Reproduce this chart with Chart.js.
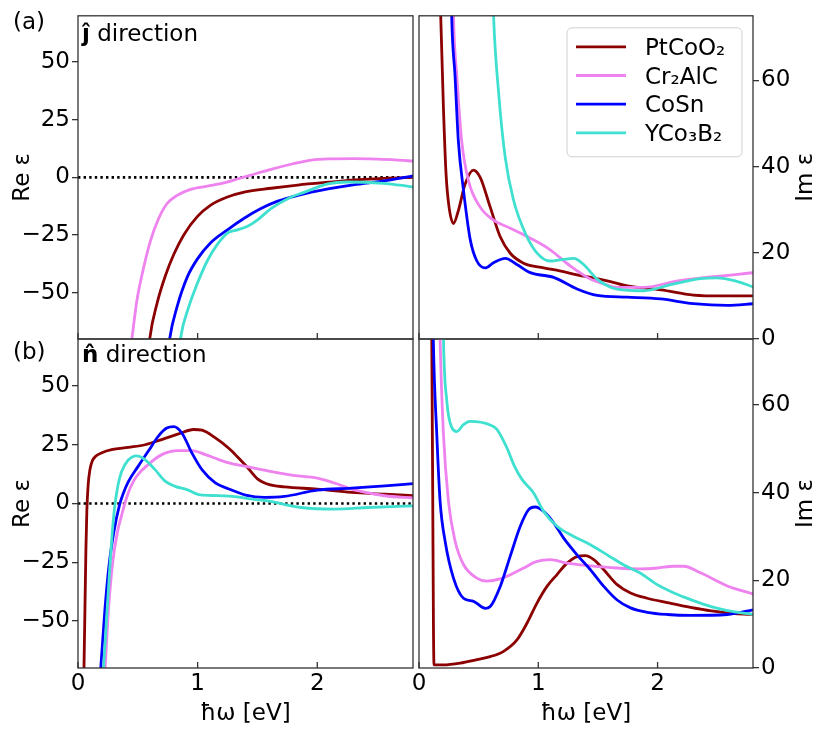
<!DOCTYPE html>
<html>
<head>
<meta charset="utf-8">
<script src="https://cdn.jsdelivr.net/npm/chart.js@4.4.1/dist/chart.umd.min.js"></script>
<style>
  html, body { margin: 0; padding: 0; background: #fff; }
  #wrap { position: relative; width: 830px; height: 739px; }
  #wrap canvas { position: absolute; left: 0; top: 0; }
</style>
</head>
<body>
<div id="wrap">
  <canvas id="reJ" width="830" height="739"></canvas>
  <canvas id="imJ" width="830" height="739"></canvas>
  <canvas id="reN" width="830" height="739"></canvas>
  <canvas id="imN" width="830" height="739"></canvas>
</div>
<script>
// materials, colours and axis ticks
const names = ['PtCoO₂', 'Cr₂AlC', 'CoSn', 'YCo₃B₂'];
const colors = ['#8b0000', '#ee82ee', '#0000ff', '#40e0d0'];
const xTicks = [0, 1, 2];
const reTicks = [-50, -25, 0, 25, 50];
const imTicks = [0, 20, 40, 60];
const xRange = [0, 2.8];
const reRange = [-70, 70];
const imRange = [0, 75];
const zeroLine = [[0, 0], [2.8, 0]];

// (a) j direction, Re eps  [energy eV, value]
const reJ_PtCoO2 = [[0.585,-78],[0.6,-69.7],[0.661,-54.5],[0.731,-42.5],[0.801,-33.3],[0.885,-24.8],[0.997,-17],[1.109,-12],[1.249,-8.5],[1.389,-6.4],[1.613,-4.7],[1.837,-3.3],[2.09,-2.1],[2.35,-1],[2.6,-0.3],[2.81,0]];
const reJ_Cr2AlC = [[0.425,-80],[0.451,-69.7],[0.493,-53.1],[0.549,-39],[0.605,-27.6],[0.675,-17.7],[0.745,-11.3],[0.829,-7.8],[0.941,-5.2],[1.081,-3.8],[1.221,-2.4],[1.333,-0.7],[1.445,1],[1.613,3.5],[1.781,5.7],[1.95,7.5],[2.1,8],[2.3,8.1],[2.5,7.9],[2.65,7.6],[2.81,7]];
const reJ_CoSn = [[0.75,-78],[0.767,-69.7],[0.829,-55.9],[0.913,-43.2],[0.997,-35.4],[1.109,-28.3],[1.249,-22.7],[1.389,-17.7],[1.529,-13.5],[1.669,-10.3],[1.837,-7.8],[2.09,-5],[2.3,-3.2],[2.57,-1.4],[2.81,0.7]];
const reJ_YCo3B2 = [[0.84,-78],[0.857,-69.7],[0.927,-55.9],[0.997,-46],[1.081,-36.1],[1.165,-29],[1.249,-24.1],[1.333,-22.7],[1.417,-21.2],[1.501,-18.4],[1.613,-13.5],[1.753,-9.2],[1.893,-6.4],[2.09,-2.8],[2.25,-2],[2.4,-2.1],[2.55,-2.6],[2.71,-3.5],[2.81,-4.2]];

// (a) j direction, Im eps
const imJ_PtCoO2 = [[0.165,95],[0.182,75],[0.205,53.5],[0.227,38.2],[0.252,30.6],[0.289,26.8],[0.33,29.8],[0.386,35.9],[0.456,39.2],[0.513,37.5],[0.597,30.6],[0.68,23.8],[0.765,19.9],[0.877,17.6],[1.045,16.5],[1.18,15.8],[1.325,14.9],[1.46,14.2],[1.605,13.3],[1.745,12.3],[2.03,11.4],[2.3,10.2],[2.55,10],[2.81,10]];
const imJ_Cr2AlC = [[0.28,90],[0.289,75],[0.317,61.1],[0.358,45.9],[0.414,36.8],[0.513,30.6],[0.625,27.6],[0.765,25.7],[0.933,23.4],[1.1,20.7],[1.27,16.9],[1.437,13.9],[1.55,12.8],[1.66,12],[1.885,12],[2.17,13.5],[2.445,14.4],[2.81,15.4]];
const imJ_CoSn = [[0.265,90],[0.274,75],[0.302,61.1],[0.33,45.9],[0.373,34.5],[0.43,23],[0.485,18.1],[0.555,16.5],[0.625,17.7],[0.723,18.7],[0.82,17.3],[0.933,15.4],[1.129,14.3],[1.325,11.6],[1.493,10.1],[1.745,9.7],[2.025,9.3],[2.3,8.2],[2.585,7.8],[2.81,8.2]];
const imJ_YCo3B2 = [[0.61,90],[0.625,75],[0.667,57.3],[0.723,42.1],[0.793,32.2],[0.89,24.6],[0.988,20],[1.1,18.1],[1.213,18.5],[1.297,18.7],[1.38,17.3],[1.493,13.9],[1.605,12],[1.66,11.6],[1.885,11.2],[2.11,12.6],[2.36,14],[2.5,14.2],[2.65,13.5],[2.81,12]];

// (b) n direction, Re eps
const reN_PtCoO2 = [[0.045,-85],[0.05,-70],[0.058,-45],[0.066,-20],[0.074,-3],[0.085,8],[0.1,14.5],[0.12,18.2],[0.15,20.2],[0.2,21.6],[0.28,22.9],[0.42,23.9],[0.56,25],[0.7,27.2],[0.84,29.6],[0.966,31.5],[1.036,31.2],[1.148,27.9],[1.26,23.5],[1.33,20],[1.417,15.3],[1.5,10.5],[1.6,8],[1.725,7.1],[2.0,6.1],[2.286,4.7],[2.566,4],[2.81,3.3]];
const reN_Cr2AlC = [[0.215,-80],[0.227,-70],[0.255,-45],[0.29,-25],[0.33,-12],[0.37,-4],[0.4,1.5],[0.44,7],[0.49,11.6],[0.588,16.6],[0.7,20.8],[0.84,22.5],[0.952,22.5],[1.064,20.8],[1.176,18.7],[1.26,17.3],[1.4,15.8],[1.585,13.9],[1.8,12],[2.0,10.8],[2.15,8.6],[2.286,6.1],[2.566,3.3],[2.81,2.3]];
const reN_CoSn = [[0.178,-80],[0.19,-70],[0.225,-45],[0.26,-26],[0.3,-12],[0.345,-1],[0.38,4.5],[0.42,9.2],[0.504,15.9],[0.588,22.3],[0.672,28.7],[0.742,32.1],[0.8,32.7],[0.868,30],[0.952,21.5],[1.036,14.4],[1.148,8.8],[1.26,6.2],[1.4,3.6],[1.557,2.6],[1.725,3],[2.0,5.7],[2.286,6.5],[2.566,7.5],[2.81,8.5]];
const reN_YCo3B2 = [[0.2,-80],[0.213,-70],[0.24,-48],[0.265,-28],[0.29,-10],[0.31,0],[0.335,8],[0.364,13.5],[0.42,18.5],[0.49,20.3],[0.56,18.7],[0.644,14.4],[0.728,9.5],[0.812,7.3],[0.91,5.9],[1.008,3.8],[1.12,3.4],[1.26,3.1],[1.53,1.4],[1.585,1.1],[1.866,-1.7],[2.146,-2.4],[2.426,-1.7],[2.81,-1]];

// (b) n direction, Im eps
const imN_PtCoO2 = [[0.1,95],[0.107,75],[0.115,40],[0.121,10],[0.126,0.7],[0.205,0.7],[0.345,1.1],[0.485,1.9],[0.597,2.6],[0.709,3.8],[0.821,6.4],[0.905,10.2],[0.989,14.8],[1.073,18.6],[1.157,21.3],[1.241,23.9],[1.325,25.4],[1.395,25.6],[1.465,24.7],[1.549,22.4],[1.661,19],[1.773,17.1],[1.913,15.9],[2.081,14.9],[2.277,13.8],[2.45,13],[2.65,12.4],[2.81,12.2]];
const imN_Cr2AlC = [[0.165,95],[0.177,75],[0.205,53.3],[0.247,38],[0.303,28.9],[0.373,23.6],[0.485,20.5],[0.569,19.8],[0.681,20.3],[0.737,20.9],[0.877,22.8],[0.989,24.3],[1.101,24.7],[1.241,23.9],[1.437,23.3],[1.661,22.8],[1.857,22.6],[1.997,22.8],[2.137,23.2],[2.22,23.2],[2.36,21.7],[2.585,18.7],[2.81,16.8]];
const imN_CoSn = [[0.11,95],[0.12,75],[0.149,53.3],[0.177,38],[0.219,28.9],[0.289,20.5],[0.373,15.9],[0.457,15.2],[0.555,13.6],[0.597,14],[0.681,18.6],[0.765,25.5],[0.849,32.3],[0.919,36.1],[0.975,36.7],[1.045,35.7],[1.129,33.1],[1.213,29.6],[1.325,25.8],[1.437,22.4],[1.549,18.6],[1.661,15.5],[1.773,13.7],[1.913,12.7],[2.081,12.2],[2.277,12],[2.585,12.2],[2.81,13.3]];
const imN_YCo3B2 = [[0.195,95],[0.205,75],[0.233,60.9],[0.275,54.8],[0.317,53.9],[0.373,55.5],[0.429,56.2],[0.597,55.4],[0.653,54.4],[0.737,50.2],[0.8,46],[0.863,43],[0.961,39.9],[1.045,35.7],[1.157,32.3],[1.297,30],[1.437,28.1],[1.577,25.8],[1.717,23.5],[1.857,21.6],[1.997,19],[2.137,17.1],[2.277,15.6],[2.45,14],[2.585,13.1],[2.81,12.2]];

const FONT = 'DejaVu Sans';
const font = { family: FONT, size: 23 };
const spine = '#333';

// frame + inward x ticks (matplotlib style)
const frame = {
  id: 'frame',
  afterDatasetsDraw(chart) {
    const { ctx, chartArea: a, scales } = chart;
    ctx.save();
    ctx.strokeStyle = spine;
    ctx.lineWidth = 1.3;
    ctx.strokeRect(a.left, a.top, a.right - a.left, a.bottom - a.top);
    ctx.beginPath();
    xTicks.forEach(v => {
      const px = scales.x.getPixelForValue(v);
      ctx.moveTo(px, a.bottom);
      ctx.lineTo(px, a.bottom - 6);
    });
    ctx.stroke();
    ctx.restore();
  }
};

// panel tags, direction labels and right-hand titles
const panelText = {
  id: 'panelText',
  afterDraw(chart, args, opts) {
    const ctx = chart.ctx;
    const a = chart.chartArea;
    ctx.save();
    ctx.fillStyle = '#000';
    ctx.textBaseline = 'alphabetic';
    if (opts.tag) {
      ctx.font = `23px "${FONT}"`;
      ctx.fillText(opts.tag, 13, opts.tagY);
      ctx.font = `bold 23px "${FONT}"`;
      ctx.fillText(opts.hat, a.left + 4, opts.textY);
      const w = ctx.measureText(opts.hat).width;
      ctx.font = `23px "${FONT}"`;
      ctx.fillText(' direction', a.left + 4 + w, opts.textY);
    }
    if (opts.rightTitle) {
      ctx.font = `23px "${FONT}"`;
      ctx.translate(806, (a.top + a.bottom) / 2);
      ctx.rotate(-Math.PI / 2);
      ctx.textAlign = 'center';
      ctx.textBaseline = 'middle';
      ctx.fillText(opts.rightTitle, 0, 0);
    }
    ctx.restore();
  }
};

// legend box inside the upper right panel
const insideLegend = {
  id: 'insideLegend',
  afterDraw(chart, args, opts) {
    if (!opts.show) return;
    const ctx = chart.ctx;
    const a = chart.chartArea;
    const w = 175, h = 129;
    const left = a.right - 11 - w, top = a.top + 12;
    ctx.save();
    ctx.beginPath();
    ctx.roundRect(left, top, w, h, 5);
    ctx.fillStyle = 'rgba(255,255,255,0.8)';
    ctx.fill();
    ctx.strokeStyle = '#d0d0d0';
    ctx.lineWidth = 1;
    ctx.stroke();
    ctx.font = `23px "${FONT}"`;
    ctx.textBaseline = 'alphabetic';
    chart.data.datasets.forEach((ds, i) => {
      const y = top + 19 + i * 28.7;
      ctx.strokeStyle = ds.borderColor;
      ctx.lineWidth = 2.8;
      ctx.beginPath();
      ctx.moveTo(left + 9, y);
      ctx.lineTo(left + 59, y);
      ctx.stroke();
      ctx.fillStyle = '#000';
      ctx.fillText(ds.label, left + 78, y + 8);
    });
    ctx.restore();
  }
};

Chart.register(frame, panelText, insideLegend);

function toXY(pts) {
  return pts.map(p => ({ x: p[0], y: p[1] }));
}

function makeDatasets(series, withZero) {
  const ds = series.map((pts, i) => ({
    label: names[i],
    data: toXY(pts),
    borderColor: colors[i],
    borderWidth: 2.8,
    pointRadius: 0,
    fill: false,
    tension: 0.4,
    cubicInterpolationMode: 'monotone',
    clip: 0,
    order: series.length - 1 - i
  }));
  if (withZero) {
    ds.push({
      label: 'zero',
      data: toXY(zeroLine),
      borderColor: '#000',
      borderWidth: 2.6,
      borderDash: [2.4, 3.2],
      pointRadius: 0,
      clip: 0,
      order: 10
    });
  }
  return ds;
}

function makePanel(id, cfg) {
  const isRe = !cfg.right;
  const yRange = isRe ? reRange : imRange;
  const yTicks = isRe ? reTicks : imTicks;
  new Chart(document.getElementById(id), {
    type: 'line',
    data: { datasets: makeDatasets(cfg.series, isRe) },
    options: {
      responsive: false,
      animation: false,
      events: [],
      layout: {
        padding: {
          left: cfg.right ? 419 : 0,
          right: cfg.right ? 0 : 417,
          top: cfg.bottom ? 339 : 11,
          bottom: cfg.bottom ? 0 : 400
        }
      },
      scales: {
        x: {
          type: 'linear',
          min: xRange[0],
          max: xRange[1],
          afterBuildTicks: s => { s.ticks = xTicks.map(v => ({ value: v })); },
          grid: { display: false, drawTicks: false },
          border: { display: false },
          ticks: { display: cfg.bottom, color: '#000', font: font, padding: 2, maxRotation: 0 },
          title: { display: cfg.bottom, text: 'ħω [eV]', color: '#000', font: font, padding: { top: 0, bottom: 11 } },
          afterFit: s => { s.height = cfg.bottom ? 71 : 0; }
        },
        y: {
          type: 'linear',
          position: cfg.right ? 'right' : 'left',
          min: yRange[0],
          max: yRange[1],
          afterBuildTicks: s => { s.ticks = yTicks.map(v => ({ value: v })); },
          grid: { display: true, drawOnChartArea: false, drawTicks: true, tickLength: 6, color: spine, lineWidth: 1.3 },
          border: { display: false },
          ticks: {
            color: '#000',
            font: font,
            padding: 2,
            callback: v => String(v).replace('-', '\u2212')
          },
          title: { display: isRe, text: 'Re ε', color: '#000', font: font, padding: { top: 9, bottom: 0 } },
          afterFit: s => { s.width = cfg.right ? 77 : 78; }
        }
      },
      plugins: {
        legend: { display: false },
        tooltip: { enabled: false },
        panelText: cfg.text || {},
        insideLegend: { show: !!cfg.legend }
      }
    }
  });
}

makePanel('reJ', {
  series: [reJ_PtCoO2, reJ_Cr2AlC, reJ_CoSn, reJ_YCo3B2],
  text: { tag: '(a)', tagY: 29, hat: 'ĵ', textY: 40.5 }
});
makePanel('imJ', {
  right: true,
  legend: true,
  series: [imJ_PtCoO2, imJ_Cr2AlC, imJ_CoSn, imJ_YCo3B2],
  text: { rightTitle: 'Im ε' }
});
makePanel('reN', {
  bottom: true,
  series: [reN_PtCoO2, reN_Cr2AlC, reN_CoSn, reN_YCo3B2],
  text: { tag: '(b)', tagY: 359, hat: 'n\u0302', textY: 361.5 }
});
makePanel('imN', {
  right: true,
  bottom: true,
  series: [imN_PtCoO2, imN_Cr2AlC, imN_CoSn, imN_YCo3B2],
  text: { rightTitle: 'Im ε' }
});
</script>
</body>
</html>
